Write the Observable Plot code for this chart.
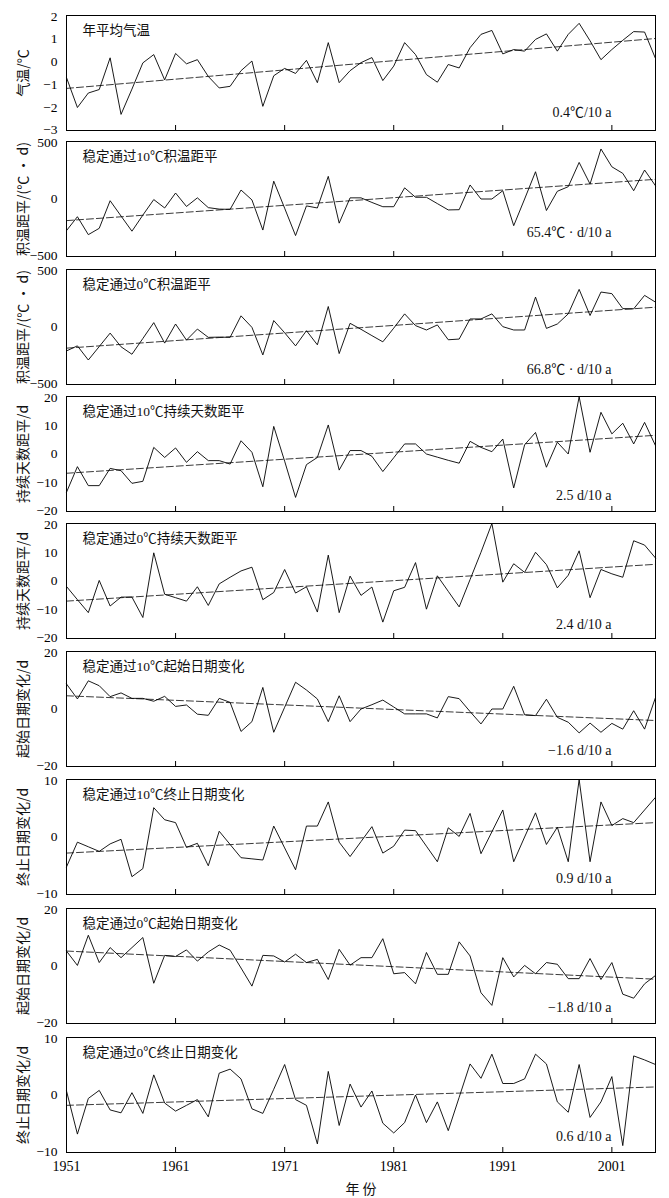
<!DOCTYPE html>
<html><head><meta charset="utf-8">
<script src="https://cdn.jsdelivr.net/npm/d3@7"></script>
<script src="https://cdn.jsdelivr.net/npm/@observablehq/plot@0.6"></script>
<style>
html,body{margin:0;padding:0;background:#fff;}
#chart{position:relative;width:669px;height:1198px;overflow:hidden;}
#chart svg{position:absolute;left:0;}
</style></head><body><div id="chart"></div>
<script>
const years = [1951,1952,1953,1954,1955,1956,1957,1958,1959,1960,
  1961,1962,1963,1964,1965,1966,1967,1968,1969,1970,
  1971,1972,1973,1974,1975,1976,1977,1978,1979,1980,
  1981,1982,1983,1984,1985,1986,1987,1988,1989,1990,
  1991,1992,1993,1994,1995,1996,1997,1998,1999,2000,
  2001,2002,2003,2004,2005];

const annualTemp = [-0.7,-2.0,-1.37,-1.22,0.16,-2.3,-1.2,-0.06,0.3,-0.8,
  0.35,-0.1,0.08,-0.65,-1.15,-1.08,-0.4,0.02,-1.95,-0.62,
  -0.3,-0.52,0.05,-0.92,0.82,-0.92,-0.4,-0.05,0.17,-0.83,
  -0.2,0.82,0.3,-0.57,-0.9,-0.13,-0.28,0.6,1.18,1.35,
  0.33,0.52,0.45,0.96,1.2,0.45,1.18,1.66,0.9,0.08,
  0.52,0.92,1.3,1.28,0.13];
const accTemp10 = [-275,-154,-310,-255,-15,-148,-280,-140,-5,-78,
  52,-65,10,-75,-88,-90,78,-8,-270,155,
  -80,-318,-60,-78,197,-210,10,10,-30,-67,
  -67,97,15,15,-40,-95,-93,122,0,0,
  72,-232,0,237,-100,67,107,318,130,435,
  280,223,72,252,115];
const accTemp0 = [-208,-164,-287,-170,-53,-172,-237,-100,38,-140,
  26,-114,-18,-90,-88,-90,97,-3,-243,56,
  -50,-164,-32,-155,178,-231,32,-20,-75,-129,
  -10,114,12,-26,18,-111,-105,70,70,114,
  3,-26,-26,260,-12,26,114,327,100,304,
  290,160,158,275,216];
const duration10 = [-13.3,-4.4,-11,-11,-5,-5.8,-10.2,-9.5,2.3,-1.2,
  2.1,-2.9,0.8,-2.3,-2.3,-3.5,4.6,0.6,-11.4,9.6,
  -2.5,-15.1,-3.7,-1.2,10.1,-5.6,1.2,1.2,-0.8,-6.1,
  -1.3,3.5,3.5,0,-1.1,-2.2,-3.2,4.4,2.3,0.8,
  5.2,-11.8,3.2,7.5,-4.6,4.1,0,19.9,0.6,14.5,
  7,10.7,3.5,11,2.9];
const duration0 = [-1.9,-6.5,-11,0.2,-8.7,-5.6,-5.6,-12.7,9.8,-4.6,
  -5.8,-7,-2,-8.5,-1,1.3,3.5,4.8,-6.5,-4,
  4,-4.2,-2,-10.8,9,-11,1.7,-5,-2.1,-14.3,
  -3.4,-2.2,6.4,-9.8,1.8,-3.6,-9,0.5,10,20,
  -0.4,6,3,10,5.7,-2.4,2,10.5,-5.8,4,
  2.5,1.3,14,12.5,8];
const startDate10 = [8.7,3.5,9.8,8.1,4.3,5.6,3.7,3.7,2.7,4.4,
  0.9,1.4,-1.8,-2.2,3.7,2.3,-7.8,-4.4,7.5,-8.1,
  0.6,9.3,6.6,3.5,-4.4,4.6,-4.4,0,1.5,3.1,
  0.7,-1.7,-1.7,-1.7,-3.1,4.3,3.6,-0.9,-5.2,0,
  0,7.9,-2,-2.3,3.4,-2.9,-4.6,-8.3,-4.9,-8.1,
  -5,-7,-0.6,-7,4];
const endDate10 = [-5.2,-0.9,-1.7,-2.5,-1.2,-0.4,-6.9,-5.5,5.1,3,
  2.5,-1.8,-1.1,-5,1,-1.3,-3.6,-3.8,-4,1.9,
  -1.9,-5.7,1.9,1.9,6.1,-0.9,-3.4,-0.8,1.8,-2.8,
  -1.6,1.2,1.1,-1.6,-4.3,1.6,0.1,4.1,-2.9,0.9,
  4.7,-4.3,0,4.2,-1.3,1.7,-4.3,10,-4.3,6.1,
  2,3.2,2.5,4.7,6.9];
const startDate0 = [5.2,0.2,10.7,1.2,6.4,2.9,6.4,9.9,-6,3.7,
  3.3,5.6,1.7,4.9,7.3,5.5,-0.7,-7,3.7,3.5,
  1.4,4.1,1.2,2.3,-4.7,5.8,0.3,2.9,2.9,9.5,
  -2.7,-2.3,-6.2,4.7,-2.9,-2.9,8.4,3.5,-9.3,-13.7,
  2.9,-3.8,0.2,-2.7,1.2,0.6,-4.4,-4.4,2.6,-4.7,
  1.2,-9.8,-11.2,-6.2,-3.3];
const endDate0 = [0.7,-6.8,-0.6,0.8,-2.6,-3.1,0.4,-3.2,3.5,-1.4,
  -2.8,-1.8,-0.8,-3.8,3.8,4.5,2.8,-2.4,-3.2,1,
  5.3,-0.8,-1.8,-8.5,4.1,-5.3,1.9,-2.1,0.7,-4.9,
  -6.6,-4.8,0,-4.8,-1.2,-6.2,-0.4,5.4,2.9,7.1,
  2,2,2.8,7.1,5.4,-1.2,-3,5.3,-3.9,-1.2,
  3.2,-8.8,6.8,6.1,5.3];

const trendStart = [-1.17,-188,-184,-6.7,-7.0,4.6,-2.8,5.2,-1.8];
const trendEnd   = [1.0,171,172,6.5,5.8,-4.0,2.5,-4.6,1.4];

const panelTitles = ["年平均气温","稳定通过10℃积温距平","稳定通过0℃积温距平",
  "稳定通过10℃持续天数距平","稳定通过0℃持续天数距平","稳定通过10℃起始日期变化",
  "稳定通过10℃终止日期变化","稳定通过0℃起始日期变化","稳定通过0℃终止日期变化"];
const yLabels = ["气温/℃","积温距平/(℃ · d)","积温距平/(℃ · d)","持续天数距平/d",
  "持续天数距平/d","起始日期变化/d","终止日期变化/d","起始日期变化/d","终止日期变化/d"];
const slopeLabels = ["0.4℃/10 a","65.4℃ · d/10 a","66.8℃ · d/10 a","2.5 d/10 a",
  "2.4 d/10 a","−1.6 d/10 a","0.9 d/10 a","−1.8 d/10 a","0.6 d/10 a"];
const yDomains = [[-3,2],[-500,500],[-500,500],[-20,20],[-20,20],[-20,20],[-10,10],[-20,20],[-10,10]];
const yTickValues = [[-3,-2,-1,0,1,2],[-500,0,500],[-500,0,500],[-20,-10,0,10,20],
  [-20,-10,0,10,20],[-20,0,20],[-10,0,10],[-20,0,20],[-10,0,10]];
const xTickValues = [1951,1961,1971,1981,1991,2001];
const xLabel = "年 份";

const seriesList = [annualTemp,accTemp10,accTemp0,duration10,duration0,startDate10,endDate10,startDate0,endDate0];

// layout
const frameTops = [14.7,141,269.3,396,523.3,651,779,907.7,1036.5];
const frameH = 115;
const slopeDy = [18,24,15,16,14,16,16,16,16];
const serif = "'Liberation Serif','Times New Roman','Noto Sans CJK SC',serif";
const cjk = "'Noto Sans CJK SC','Liberation Serif',sans-serif";
const fmt = d => (d < 0 ? "\u2212" + Math.abs(d) : String(d));

const chart = document.getElementById("chart");
seriesList.forEach((vals, i) => {
  const last = i === seriesList.length - 1;
  const mt = 4, mb = last ? 50 : 4;
  const data = years.map((yr, k) => ({year: yr, value: vals[k]}));
  const trend = [{year: years[0], value: trendStart[i]}, {year: years[years.length-1], value: trendEnd[i]}];
  const [y0, y1] = yDomains[i];
  const ticks = yTickValues[i];
  const midTicks = ticks.filter(t => t !== y0 && t !== y1);
  const marks = [
    Plot.ruleX(xTickValues, {x: d => d, insetTop: frameH - 5, stroke: "#000", strokeWidth: 1}),
    Plot.axisY(midTicks, {tickSize: 0, tickPadding: 9, label: null, tickFormat: fmt, fontSize: 13.5, fontFamily: serif}),
    Plot.axisY([y1], {tickSize: 0, tickPadding: 9, label: null, tickFormat: fmt, fontSize: 13.5, fontFamily: serif, dy: 1.2}),
    Plot.axisY([y0], {tickSize: 0, tickPadding: 9, label: null, tickFormat: fmt, fontSize: 13.5, fontFamily: serif, dy: -1.2}),
    Plot.line(trend, {x: "year", y: "value", stroke: "#3a3a3a", strokeWidth: 1, strokeDasharray: "7,3"}),
    Plot.line(data, {x: "year", y: "value", stroke: "#000", strokeWidth: 0.9}),
    Plot.frame({stroke: "#000", strokeWidth: 1}),
    Plot.text([panelTitles[i]], {frameAnchor: "top-left", dx: 16, dy: 15, textAnchor: "start", lineAnchor: "middle", fontSize: 13.5, fontFamily: serif, fill: "#111"}),
    Plot.text([slopeLabels[i]], {frameAnchor: "bottom-right", dx: -44, dy: -slopeDy[i], textAnchor: "end", lineAnchor: "middle", fontSize: 14, fontFamily: serif, fill: "#111"}),
    Plot.text([yLabels[i]], {frameAnchor: "left", dx: -42.5, rotate: -90, textAnchor: "middle", lineAnchor: "middle", fontSize: 14, fontFamily: cjk, fill: "#111"})
  ];
  if (last) {
    marks.push(Plot.axisX({ticks: xTickValues, tickSize: 0, tickPadding: 9, label: null, tickFormat: d => String(d), fontSize: 14, fontFamily: serif}));
    marks.push(Plot.text([xLabel], {frameAnchor: "bottom", dy: 37, textAnchor: "middle", lineAnchor: "middle", fontSize: 14, fontFamily: cjk, fill: "#111"}));
  }
  const svg = Plot.plot({
    width: 669,
    height: mt + frameH + mb,
    marginTop: mt, marginBottom: mb, marginLeft: 66, marginRight: 14,
    x: last ? {domain: [1951, 2005]} : {domain: [1951, 2005], axis: null},
    y: {domain: yDomains[i]},
    style: {background: "transparent", color: "#000", fontFamily: serif, fontSize: "14px", overflow: "visible"},
    marks
  });
  svg.style.top = (frameTops[i] - mt) + "px";
  chart.appendChild(svg);
});
</script>
</body></html>
